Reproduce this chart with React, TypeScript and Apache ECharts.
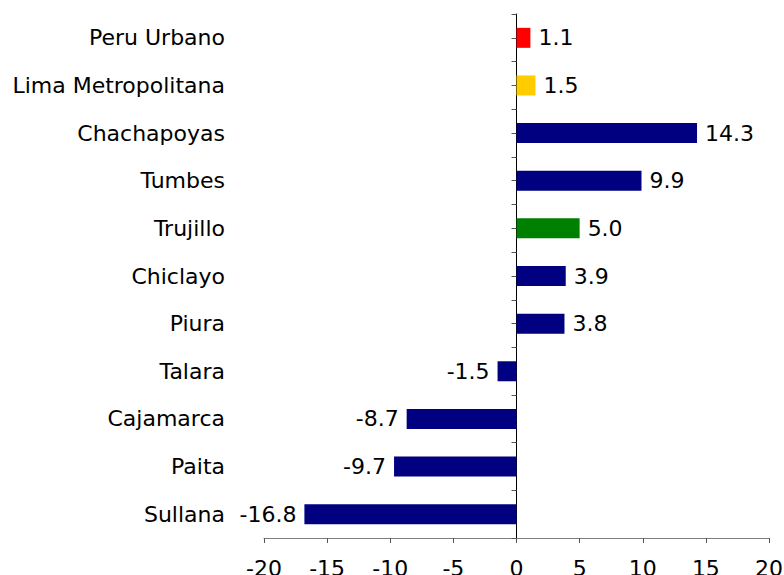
import React, { useEffect, useRef } from "react";
import * as echarts from "echarts";

const categories = [
  "Sullana",
  "Paita",
  "Cajamarca",
  "Talara",
  "Piura",
  "Chiclayo",
  "Trujillo",
  "Tumbes",
  "Chachapoyas",
  "Lima Metropolitana",
  "Peru Urbano",
];
const values = [-16.8, -9.7, -8.7, -1.5, 3.8, 3.9, 5.0, 9.9, 14.3, 1.5, 1.1];
const barColors = [
  "#000080",
  "#000080",
  "#000080",
  "#000080",
  "#000080",
  "#000080",
  "#008000",
  "#000080",
  "#000080",
  "#FFCC00",
  "#FF0000",
];
const xMin = -20;
const xMax = 20;
const xInterval = 5;

const FONT = "'DejaVu Sans', Verdana, sans-serif";

export default function App() {
  const ref = useRef<HTMLDivElement>(null);
  useEffect(() => {
    if (!ref.current) return;
    const chart = echarts.init(ref.current, undefined, { renderer: "svg" });
    const gridLeft = 264;
    const gridRight = 15;
    const gridWidth = 784 - gridLeft - gridRight;
    const zeroOffset = -gridWidth * ((0 - xMin) / (xMax - xMin));
    chart.setOption({
      animation: false,
      backgroundColor: "#ffffff",
      grid: {
        left: gridLeft,
        right: gridRight,
        top: 14,
        bottom: 37,
        containLabel: false,
        outerBoundsMode: "none",
      },
      xAxis: {
        type: "value",
        min: xMin,
        max: xMax,
        interval: xInterval,
        splitLine: { show: false },
        axisLine: { show: true, onZero: false, lineStyle: { color: "#808080", width: 1 } },
        axisTick: { show: true, length: 5, lineStyle: { color: "#555555" } },
        axisLabel: { color: "#000", fontSize: 22, fontFamily: FONT, margin: 19 },
      },
      yAxis: [
        {
          type: "category",
          data: categories,
          position: "left",
          axisLine: { show: false },
          axisTick: { show: false },
          axisLabel: { color: "#000", fontSize: 22, fontFamily: FONT, margin: 39 },
        },
        {
          type: "category",
          data: categories,
          position: "left",
          offset: zeroOffset,
          axisLine: { show: true, onZero: false, lineStyle: { color: "#000", width: 1 } },
          axisTick: { show: true, length: 5, alignWithLabel: false, lineStyle: { color: "#555555" } },
          axisLabel: { show: false },
        },
        {
          type: "category",
          data: categories,
          position: "left",
          offset: zeroOffset,
          axisLine: { show: false },
          axisTick: { show: true, length: 5, alignWithLabel: true, lineStyle: { color: "#555555" } },
          axisLabel: { show: false },
        },
      ],
      series: [
        {
          type: "bar",
          yAxisIndex: 0,
          barWidth: "42%",
          data: values.map((v, i) => ({
            value: v,
            itemStyle: { color: barColors[i] },
            label: {
              show: true,
              position: v < 0 ? "left" : "right",
              distance: 8,
              formatter: () => v.toFixed(1),
              color: "#000",
              fontSize: 22,
              fontFamily: FONT,
            },
          })),
        },
      ],
    });
    return () => chart.dispose();
  }, []);
  return <div ref={ref} style={{ width: 784, height: 575, position: "absolute", left: 0, top: 0 }} />;
}
